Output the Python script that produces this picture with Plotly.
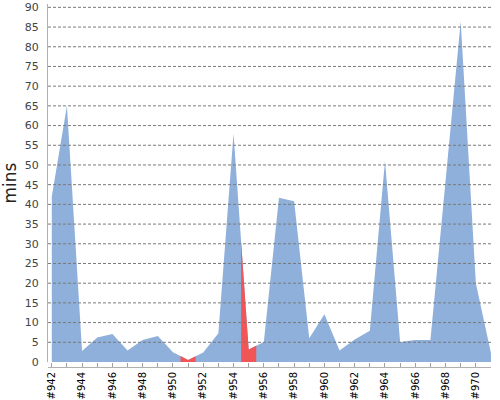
import numpy as np
import plotly.graph_objects as go

categories = ["#942", "#943", "#944", "#945", "#946", "#947", "#948", "#949", "#950", "#951",
              "#952", "#953", "#954", "#955", "#956", "#957", "#958", "#959", "#960", "#961",
              "#962", "#963", "#964", "#965", "#966", "#967", "#968", "#969", "#970", "#971"]
values = [42, 65, 2.8, 6.2, 7.1, 2.9, 5.6, 6.6, 2.5, 0.5,
          2.4, 7.3, 58, 3.2, 5.1, 41.7, 40.8, 6.0, 12.1, 2.9,
          5.7, 7.9, 51, 5.1, 5.6, 5.6, 46, 86.5, 20, 2.2]
failed = ["#951", "#955"]
y_ticks = [0, 5, 10, 15, 20, 25, 30, 35, 40, 45, 50, 55, 60, 65, 70, 75, 80, 85, 90]

BLUE = "#8FB0DA"
RED = "#F25555"
FONT = "DejaVu Sans"

idx = np.arange(len(categories))
vals = np.array(values, dtype=float)

fig = go.Figure()
fig.add_trace(go.Scatter(x=idx, y=vals, mode="lines", fill="tozeroy",
                         fillcolor=BLUE, line=dict(width=0, color=BLUE),
                         hoverinfo="skip", showlegend=False))

for name in failed:
    i = categories.index(name)
    a, b = i - 0.5, i + 0.5
    xs = [a, a, i, b, b]
    ys = [0, float(np.interp(a, idx, vals)), vals[i], float(np.interp(b, idx, vals)), 0]
    fig.add_trace(go.Scatter(x=xs, y=ys, mode="lines", fill="toself",
                             fillcolor=RED, line=dict(width=0, color=RED),
                             hoverinfo="skip", showlegend=False))

shapes = []
for v in y_ticks[1:]:
    shapes.append(dict(type="line", xref="paper", yref="y", x0=0, x1=1, y0=v, y1=v,
                       line=dict(color="#7a7a7a", width=1, dash="3px,2px"), layer="above"))

ticktext = [c if k % 2 == 0 else "" for k, c in enumerate(categories)]

fig.update_layout(
    width=500, height=400,
    margin=dict(l=48, r=9, t=4, b=33, autoexpand=False),
    paper_bgcolor="white", plot_bgcolor="white",
    font=dict(family=FONT),
    shapes=shapes,
    xaxis=dict(range=[-0.25, len(categories) - 1], tickmode="array",
               tickvals=list(idx), ticktext=ticktext, tickangle=-90,
               tickfont=dict(size=10, color="#000", family=FONT),
               ticks="inside", ticklen=4, tickcolor="#a0a0a0",
               showline=True, linecolor="#b0b0b0", linewidth=1,
               showgrid=False, zeroline=False, automargin=False,
               anchor="free", position=0),
    yaxis=dict(domain=[5 / 363, 1], range=[0, 90.85], tickmode="array",
               tickvals=y_ticks, tickfont=dict(size=11, color="#444", family=FONT),
               ticks="", ticklabelstandoff=6, automargin=False,
               showline=True, linecolor="#b0b0b0", linewidth=1,
               showgrid=False, zeroline=False,
               title=dict(text="mins", font=dict(size=17, color="#222", family=FONT),
                          standoff=6)),
)

fig.write_html("out.html")
